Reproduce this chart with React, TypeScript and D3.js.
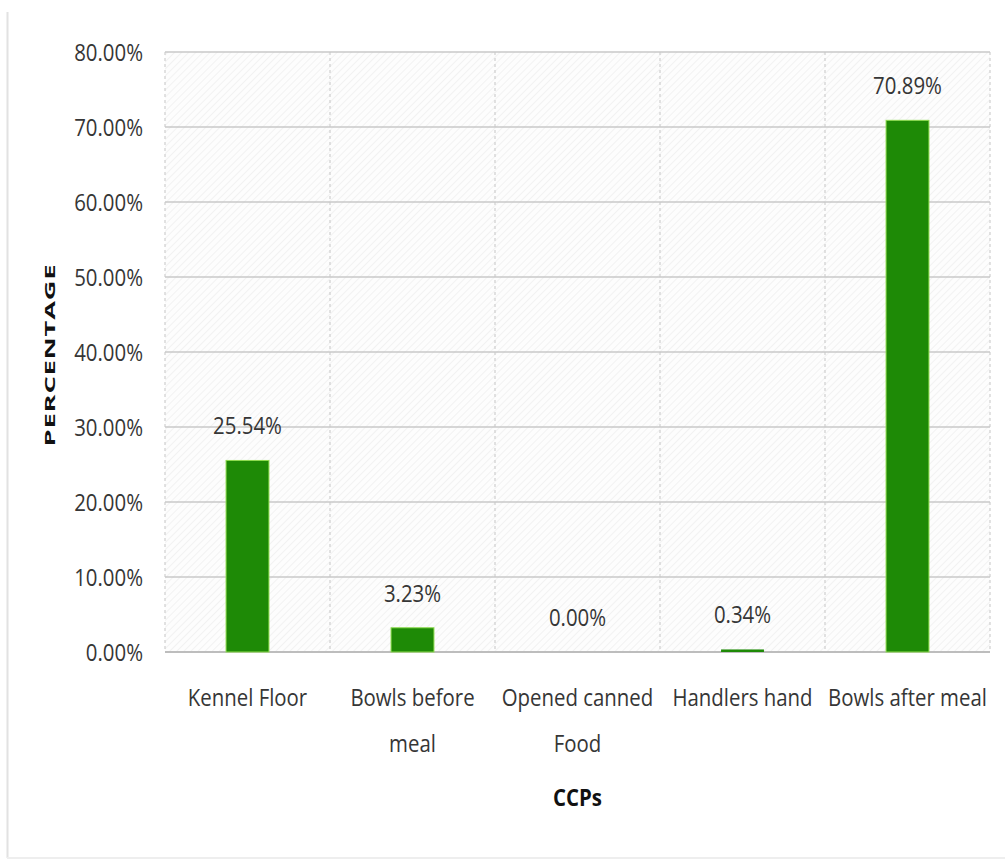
import React from "react";
import * as d3 from "d3";

const categories: string[][] = [
  ["Kennel Floor"],
  ["Bowls before", "meal"],
  ["Opened canned", "Food"],
  ["Handlers hand"],
  ["Bowls after meal"],
];
const values: number[] = [25.54, 3.23, 0.0, 0.34, 70.89];
const yTicks: number[] = [0, 10, 20, 30, 40, 50, 60, 70, 80];

const W = 1005;
const H = 860;
const left = 165;
const right = 990;
const top = 52;
const bottom = 652;
const SX = 0.85; // horizontal squeeze for the narrow label face
const FONT = "'Open Sans', 'Noto Sans', sans-serif";

function Txt({ x, y, size, anchor = "middle", weight = 400, fill = "#363636", children }: any) {
  return (
    <text
      transform={`translate(${x},${y}) scale(${SX},1)`}
      textAnchor={anchor}
      fontFamily={FONT}
      fontSize={size}
      fontWeight={weight}
      fill={fill}
    >
      {children}
    </text>
  );
}

export default function App() {
  const keys = categories.map((c) => c.join(" "));
  const x = d3.scaleBand<string>().domain(keys).range([left, right]).paddingInner(0).paddingOuter(0);
  const y = d3.scaleLinear().domain([0, 80]).range([bottom, top]);
  const barW = x.bandwidth() * 0.26;
  const fmt = (v: number) => v.toFixed(2) + "%";

  return (
    <svg width={W} height={H} style={{ position: "absolute", left: 0, top: 0 }}>
      <defs>
        <pattern id="hatch" width="5" height="5" patternUnits="userSpaceOnUse" patternTransform="rotate(45)">
          <rect width="5" height="5" fill="#fdfdfd" />
          <line x1="0" y1="0" x2="0" y2="5" stroke="#ececec" strokeWidth="1.2" />
        </pattern>
      </defs>
      <rect x={0} y={0} width={W} height={H} fill="#ffffff" />
      {/* outer frame */}
      <line x1={7.5} y1={12} x2={7.5} y2={858} stroke="#e2e2e2" strokeWidth={2} />
      <line x1={7} y1={858} x2={W} y2={858} stroke="#eeeeee" strokeWidth={2} />

      {/* plot background */}
      <rect x={left} y={top} width={right - left} height={bottom - top} fill="url(#hatch)" />

      {/* vertical dashed category separators */}
      {keys.map((k) => (
        <line
          key={"v" + k}
          x1={x(k)!}
          x2={x(k)!}
          y1={top}
          y2={bottom}
          stroke="#cfcfcf"
          strokeWidth={1.2}
          strokeDasharray="3,3"
        />
      ))}
      <line x1={right} x2={right} y1={top} y2={bottom} stroke="#cfcfcf" strokeWidth={1.2} strokeDasharray="3,3" />

      {/* horizontal gridlines */}
      {yTicks.map((t) => (
        <line
          key={"h" + t}
          x1={left}
          x2={right}
          y1={y(t)}
          y2={y(t)}
          stroke={t === 0 ? "#bdbdbd" : "#c9c9c9"}
          strokeWidth={t === 0 ? 2 : 1.5}
        />
      ))}

      {/* y tick labels */}
      {yTicks.map((t) => (
        <Txt key={"yl" + t} x={143} y={y(t) + 8.5} size={24} anchor="end">
          {fmt(t)}
        </Txt>
      ))}

      {/* bars */}
      {keys.map((k, i) => (
        <rect
          key={"b" + k}
          x={x(k)! + x.bandwidth() / 2 - barW / 2}
          y={y(values[i])}
          width={barW}
          height={y(0) - y(values[i])}
          fill="#1e8a06"
          stroke="#8fdc4f"
          strokeWidth={values[i] > 1 ? 1 : 0}
        />
      ))}

      {/* value labels */}
      {keys.map((k, i) => (
        <Txt key={"vl" + k} x={x(k)! + x.bandwidth() / 2} y={y(values[i]) - 26} size={24}>
          {fmt(values[i])}
        </Txt>
      ))}

      {/* category labels */}
      {categories.map((lines, i) =>
        lines.map((ln, j) => (
          <Txt key={"c" + i + "-" + j} x={x(keys[i])! + x.bandwidth() / 2} y={706 + j * 46} size={24}>
            {ln}
          </Txt>
        ))
      )}

      {/* axis titles */}
      <Txt x={(left + right) / 2} y={806} size={24} weight={700} fill="#111">
        CCPs
      </Txt>
      <text
        transform={`translate(55,355) rotate(-90) scale(1.95,1)`}
        textAnchor="middle"
        fontFamily={FONT}
        fontSize={14}
        fontWeight={700}
        fill="#111"
        letterSpacing={0.4}
      >
        PERCENTAGE
      </text>
    </svg>
  );
}
